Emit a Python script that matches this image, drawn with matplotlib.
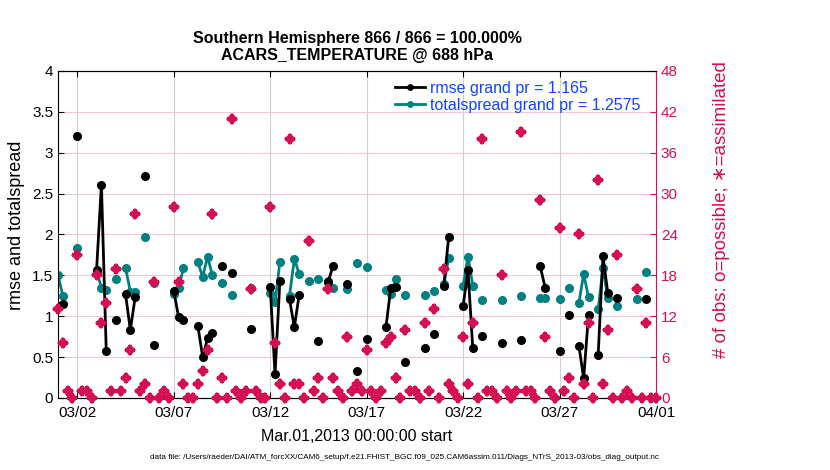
import numpy as np
import matplotlib
matplotlib.use("Agg")
import matplotlib.pyplot as plt

plt.rcParams['font.family'] = ['Liberation Sans', 'DejaVu Sans']

nan = np.nan
# 6-hourly bins from Mar.01,2013 00Z to Apr.01,2013 00Z (125 bins)
rmse = [1.12, 1.15, nan, nan, 3.21, nan, nan, nan, 1.57, 2.61,
        0.575, nan, 0.96, nan, 1.27, 0.83, 1.235, nan, 2.72, nan,
        0.65, nan, nan, nan, 1.31, 0.99, 0.96, nan, nan, 0.88,
        0.50, 0.73, 0.80, nan, 1.61, nan, 1.53, nan, nan, nan,
        0.84, nan, nan, nan, 1.36, 0.29, 1.43, nan, 1.21, 0.865,
        1.26, nan, nan, nan, 0.70, nan, 1.42, 1.61, nan, nan,
        1.39, nan, 0.33, nan, 0.72, nan, nan, nan, 0.865, 1.35,
        1.36, nan, 0.44, nan, nan, nan, 0.615, nan, 0.78, nan,
        1.37, 1.97, nan, nan, 1.125, 1.565, 0.61, nan, 0.76, nan,
        nan, nan, 0.67, nan, nan, nan, 0.71, nan, nan, nan,
        1.61, 1.35, nan, nan, 0.575, nan, 1.02, nan, 0.64, 0.24,
        1.02, nan, 0.525, 1.74, 1.28, nan, 1.22, nan, nan, nan,
        nan, nan, 1.21, nan, nan]
totalspread = [1.50, 1.25, nan, nan, 1.84, nan, nan, nan, 1.55, 1.35,
               1.32, nan, 1.45, nan, 1.59, 1.30, 1.30, nan, 1.97, nan,
               1.41, nan, nan, nan, 1.27, 1.34, 1.59, nan, nan, 1.66,
               1.48, 1.73, 1.50, nan, 1.41, nan, 1.26, nan, nan, nan,
               1.34, nan, nan, nan, 1.28, 1.17, 1.66, nan, 1.25, 1.70,
               1.52, nan, 1.435, nan, 1.455, nan, 1.43, 1.34, nan, nan,
               1.33, nan, 1.65, nan, 1.60, nan, nan, nan, 1.32, 1.27,
               1.45, nan, 1.26, nan, nan, nan, 1.26, nan, 1.31, nan,
               1.39, 1.71, nan, nan, 1.37, 1.73, 1.375, nan, 1.20, nan,
               nan, nan, 1.20, nan, nan, nan, 1.25, nan, nan, nan,
               1.22, 1.22, nan, nan, 1.21, nan, 1.35, nan, 1.16, 1.52,
               1.23, nan, 1.085, 1.59, 1.22, nan, 1.12, nan, nan, nan,
               1.21, nan, 1.545, nan, nan]
nobs = [13, 8, 1, 0, 21, 1, 1, 0, 18, 11,
        14, 1, 19, 1, 3, 7, 27, 1, 2, 0,
        17, 0, 1, 0, 28, 17, 2, 0, 0, 2,
        4, 7, 27, 0, 3, 0, 41, 1, 0, 1,
        16, 1, 0, 0, 28, 8, 2, 0, 38, 2,
        2, 0, 23, 1, 3, 0, 16, 3, 1, 0,
        9, 1, 2, 1, 7, 1, 0, 1, 8, 9,
        3, 0, 10, 1, 1, 0, 11, 1, 13, 0,
        19, 2, 1, 0, 9, 2, 11, 0, 38, 1,
        1, 0, 18, 1, 0, 1, 39, 1, 1, 0,
        29, 9, 1, 0, 25, 1, 3, 0, 24, 2,
        11, 0, 32, 2, 10, 0, 21, 0, 1, 0,
        16, 0, 11, 0, 0]

xtick_days = [1, 6, 11, 16, 21, 26, 31]
xtick_labels = ['03/02', '03/07', '03/12', '03/17', '03/22', '03/27', '04/01']
left_ticks = [0, 0.5, 1, 1.5, 2, 2.5, 3, 3.5, 4]
left_labels = ['0', '0.5', '1', '1.5', '2', '2.5', '3', '3.5', '4']
right_ticks = [0, 6, 12, 18, 24, 30, 36, 42, 48]

rmse_label = 'rmse grand pr = 1.165'
spread_label = 'totalspread grand pr = 1.2575'
title = 'Southern Hemisphere 866 / 866 = 100.000%\nACARS_TEMPERATURE @ 688 hPa'
xlabel = 'Mar.01,2013 00:00:00 start'
datafile = ('data file: /Users/raeder/DAI/ATM_forcXX/CAM6_setup/f.e21.FHIST_BGC.f09_025.'
            'CAM6assim.011/Diags_NTrS_2013-03/obs_diag_output.nc')

RED = '#D50F52'
TEAL = '#008080'
BLUE = '#1144FF'

days = np.arange(len(nobs)) * 0.25

fig = plt.figure(figsize=(8.3, 4.7), dpi=100)
ax = fig.add_axes([0.0699, 0.1532, 0.7205, 0.6958])
ax2 = ax.twinx()

ax.set_xlim(0, 31)
ax.set_ylim(0, 4)
ax2.set_ylim(0, 48)

# grids
for d in xtick_days[:-1]:
    ax.axvline(d, color='#d0d0d0', lw=0.8, zorder=0)
for v in left_ticks[1:-1]:
    ax.axhline(v, color='#f5c6d6', lw=0.8, zorder=0)

ax.plot(days, rmse, '-o', color='black', lw=2, ms=5.5, zorder=3, label=rmse_label)
ax.plot(days, totalspread, '-o', color=TEAL, lw=2, ms=5.5, zorder=2, label=spread_label)

ax2.plot(days, nobs, 'D', color=RED, ms=6.5, mew=0, clip_on=False, zorder=4)
ax2.plot(days, nobs, 'P', color=RED, ms=6.5, mew=0, clip_on=False, zorder=4)

ax.set_xticks(xtick_days)
ax.set_xticklabels(xtick_labels, fontsize=11)
ax.set_yticks(left_ticks)
ax.set_yticklabels(left_labels, fontsize=11)
ax.tick_params(axis='both', direction='in', length=4, width=0.8, top=True)
ax.tick_params(axis='x', pad=6)
ax2.set_yticks(right_ticks)
ax2.set_yticklabels([str(t) for t in right_ticks], fontsize=11, color=RED)
ax2.tick_params(axis='y', direction='in', length=4, width=0.8, colors=RED)
ax2.spines['right'].set_color(RED)
ax2.spines['left'].set_visible(False)
ax.spines['right'].set_visible(False)

ax.set_ylabel('rmse and totalspread', fontsize=13)
ax.yaxis.set_label_coords(-0.055, 0.529)
ax2.set_ylabel('# of obs: o=possible; \u2217=assimilated', fontsize=13.5, color=RED)
ax2.yaxis.set_label_coords(1.095, 0.575)
ax.set_xlabel(xlabel, fontsize=11.5, labelpad=6)
ax.set_title(title, fontsize=11.5, fontweight='bold', pad=8, linespacing=1.15)

leg = ax.legend(loc='upper left', bbox_to_anchor=(0.553, 0.99), frameon=False,
                fontsize=11.5, handlelength=1.9, handletextpad=0.3, borderaxespad=0,
                borderpad=0.4, labelspacing=0.15, markerscale=0.7)
for t in leg.get_texts():
    t.set_color(BLUE)

fig.text(0.487, 0.027, datafile, fontsize=5.85, ha='center', va='center')

fig.savefig('out.png', dpi=100)
